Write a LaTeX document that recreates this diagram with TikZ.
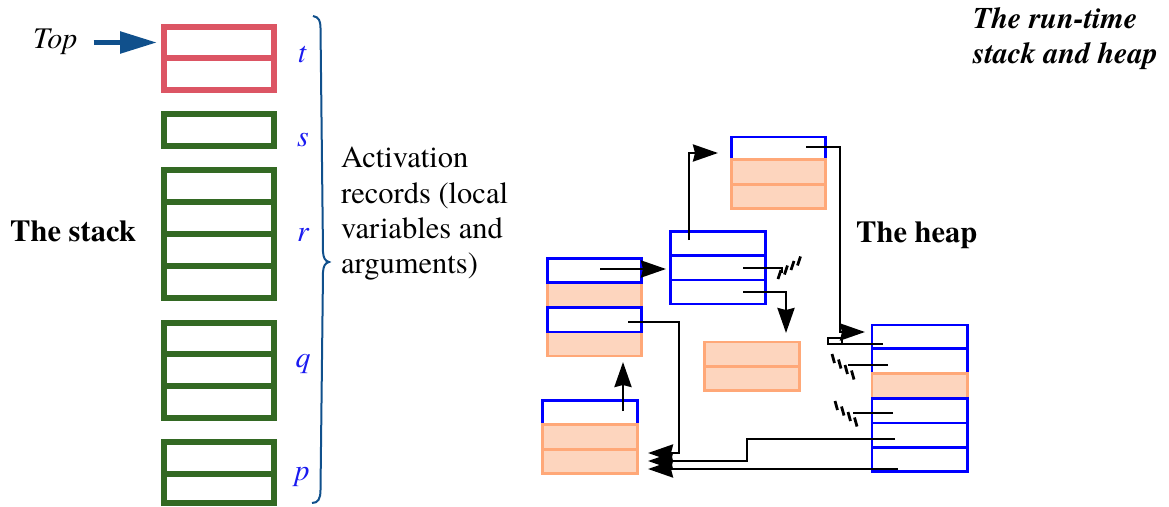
\documentclass[tikz,border=0pt]{standalone}
\usepackage{fontspec}
\setmainfont{TeX Gyre Termes}
\usetikzlibrary{arrows.meta}
\definecolor{stackred}{HTML}{DC5564}
\definecolor{stackgreen}{HTML}{336923}
\definecolor{lblue}{HTML}{1A1AF0}
\definecolor{topblue}{HTML}{10508C}
\definecolor{heapblue}{HTML}{0000FF}
\definecolor{orfill}{HTML}{FDD5BE}
\definecolor{ordraw}{HTML}{FFA878}
\tikzset{
  srow/.style={draw=#1, line width=5.2pt, minimum width=110pt, inner sep=0pt, outer sep=0pt},
  brow/.style={draw=heapblue, line width=2.7pt, inner sep=0pt, outer sep=0pt},
  orow/.style={draw=ordraw, fill=orfill, line width=2.7pt, inner sep=0pt, outer sep=0pt},
  lbl/.style={anchor=base, text=lblue, font=\itshape\fontsize{30}{36}\selectfont},
  txt/.style={anchor=base west, inner sep=0pt, font=\fontsize{30.5}{36}\selectfont},
  btxt/.style={anchor=base west, inner sep=0pt, font=\bfseries\fontsize{30.5}{36}\selectfont},
  bitxt/.style={anchor=base west, inner sep=0pt, font=\bfseries\itshape\fontsize{30}{36}\selectfont},
  ptr/.style={draw=black, line width=2.7pt},
  ptrarrow/.style={ptr, -{Stealth[length=25pt,width=17pt,inset=2pt]}},
  nullst/.style={draw=black, line width=2.8pt},
}
\begin{document}
\begin{tikzpicture}[x=1pt,y=-1pt]
\useasboundingbox (0,0) rectangle (1169,506);

% ---------- stack ----------
\node[srow=stackred, minimum height=31pt] (t1) at (219,42.5) {};
\node[srow=stackred, minimum height=32pt] (t2) at (219,74) {};
\node[srow=stackgreen, minimum height=32pt] (s1) at (219,130) {};
\node[srow=stackgreen, minimum height=32pt] (r1) at (219,186) {};
\node[srow=stackgreen, minimum height=32pt] (r2) at (219,218) {};
\node[srow=stackgreen, minimum height=32pt] (r3) at (219,250) {};
\node[srow=stackgreen, minimum height=32pt] (r4) at (219,282) {};
\node[srow=stackgreen, minimum height=31pt] (q1) at (219,338.5) {};
\node[srow=stackgreen, minimum height=32pt] (q2) at (219,370) {};
\node[srow=stackgreen, minimum height=32pt] (q3) at (219,402) {};
\node[srow=stackgreen, minimum height=32pt] (p1) at (219,458) {};
\node[srow=stackgreen, minimum height=29pt] (p2) at (219,488.5) {};

\node[lbl] (lt) at (302,62) {t};
\node[lbl] (ls) at (303,146) {s};
\node[lbl] (lr) at (303,241) {r};
\node[lbl] (lq) at (303,367) {q};
\node[lbl] (lp) at (302,480) {p};

\node[anchor=base west, inner sep=0pt, font=\itshape\fontsize{30}{36}\selectfont] (top) at (33,48) {Top};
\draw[topblue, line width=5.5pt, -{Triangle[length=37pt,width=21pt]}]
  ([xshift=16pt]top.east |- t1.west) -- ([xshift=-7pt]t1.west);

\node[btxt] (thestack) at (10,241) {The stack};

% brace
\draw[topblue, line width=2pt]
  (313,16) .. controls (319,17) and (320.5,21) .. (320.5,28)
  -- (323,252) .. controls (323.5,258) and (325,261) .. (329,262)
  .. controls (325,263) and (323.5,266) .. (323,272)
  -- (320.5,490) .. controls (320.5,499) and (318,503) .. (312,503);

\node[txt] (act1) at (341,167) {Activation};
\node[txt] (act2) at (341,203) {records (local};
\node[txt] (act3) at (341,238) {variables and};
\node[txt] (act4) at (341,273) {arguments)};

\node[bitxt] (rt1) at (973,28) {The run-time};
\node[bitxt] (rt2) at (973,63) {stack and heap};

\node[btxt] (theheap) at (856,242) {The heap};

% ---------- heap ----------
% box A
\node[brow, minimum width=94.2pt, minimum height=22.5pt] (A1) at (778.6,148.25) {};
\node[orow, minimum width=94.2pt, minimum height=24.8pt] (A2) at (778.6,171.9) {};
\node[orow, minimum width=94.2pt, minimum height=24.5pt] (A3) at (778.6,196.55) {};
% box B
\node[brow, minimum width=95pt, minimum height=24.2pt] (B1) at (718.3,243.6) {};
\node[brow, minimum width=95pt, minimum height=24.3pt] (B2) at (718.3,267.85) {};
\node[brow, minimum width=95pt, minimum height=24pt] (B3) at (718.3,292) {};
% box C
\node[orow, minimum width=94.1pt, minimum height=24.6pt] (C2) at (594.75,295) {};
\node[orow, minimum width=94.1pt, minimum height=24pt] (C4) at (594.75,344) {};
\node[brow, minimum width=94.1pt, minimum height=24.2pt] (C1) at (594.75,270.6) {};
\node[brow, minimum width=94.1pt, minimum height=24.7pt] (C3) at (594.75,319.65) {};
% box D
\node[orow, minimum width=94.6pt, minimum height=24.7pt] (D1) at (752,354.35) {};
\node[orow, minimum width=94.6pt, minimum height=24pt] (D2) at (752,378.7) {};
% box E
\node[brow, minimum width=95pt, minimum height=23.6pt] (E1) at (589.8,412.5) {};
\node[orow, minimum width=95pt, minimum height=25.4pt] (E2) at (589.8,437) {};
\node[orow, minimum width=95pt, minimum height=23.6pt] (E3) at (589.8,461.5) {};
% box F
\node[brow, minimum width=95.7pt, minimum height=23.7pt] (F1) at (919.85,336.85) {};
\node[brow, minimum width=95.7pt, minimum height=25pt] (F2) at (919.85,361.2) {};
\node[orow, minimum width=95.7pt, minimum height=25pt] (F3) at (919.85,386.2) {};
\node[brow, minimum width=95.7pt, minimum height=24.3pt] (F4) at (919.85,410.85) {};
\node[brow, minimum width=95.7pt, minimum height=24.7pt] (F5) at (919.85,435.35) {};
\node[brow, minimum width=95.7pt, minimum height=24pt] (F6) at (919.85,459.7) {};

% pointer coordinates
\coordinate (a1s) at (806,147);
\coordinate (a1c) at (840,332);
\coordinate (a1t) at (865,332);
\coordinate (b1s) at (689,240);
\coordinate (b1t) at (718,153);
\coordinate (b2s) at (743,268);
\coordinate (b2e) at (782,268);
\coordinate (b3s) at (743,292);
\coordinate (b3t) at (786,333);
\coordinate (c1s) at (600,269);
\coordinate (c1t) at (666,269);
\coordinate (c3s) at (628,322);
\coordinate (c3c) at (679,453);
\coordinate (c3t) at (648,453);
\coordinate (e1s) at (623,411);
\coordinate (e1t) at (623,362);
\coordinate (f1s) at (883,344);
\coordinate (f1e) at (828,344);
\coordinate (f2s) at (888,365);
\coordinate (f2e) at (848,365);
\coordinate (f4s) at (893,413);
\coordinate (f4e) at (853,413);
\coordinate (f5s) at (895,439);
\coordinate (f5c) at (747,461);
\coordinate (f5t) at (648,461);
\coordinate (f6s) at (898,469);
\coordinate (f6t) at (648,469);

\draw[ptrarrow] (a1s) -| (a1c) -- (a1t);
\draw[ptrarrow] (b1s) |- (b1t);
\draw[ptr] (b2s) -- (b2e) -- ++(0,5);
\draw[ptrarrow] (b3s) -| (b3t);
\draw[ptrarrow] (c1s) -- (c1t);
\draw[ptrarrow] (c3s) -| (c3c) -- (c3t);
\draw[ptrarrow] (e1s) -- (e1t);
\draw[ptr] (f1s) -- (f1e);
\draw[draw=black, line width=2.2pt] (f1e) rectangle ++(14,-6);
\draw[ptr] (f2s) -- (f2e);
\draw[ptr] (f4s) -- (f4e);
\draw[ptrarrow] (f5s) -| (f5c) -- (f5t);
\draw[ptrarrow] (f6s) -- (f6t);

% null symbols
\foreach \i in {0,...,3}
  \draw[nullst] ({778+6.5*\i},{279-4.5*\i}) -- ++(3,-9);
\foreach \i in {0,...,3}
  \draw[nullst] ({832+6.5*\i},{354+5.5*\i}) -- ++(2.5,9);
\foreach \i in {0,...,3}
  \draw[nullst] ({835+6.5*\i},{401+5.5*\i}) -- ++(2.5,9);
\end{tikzpicture}
\end{document}
